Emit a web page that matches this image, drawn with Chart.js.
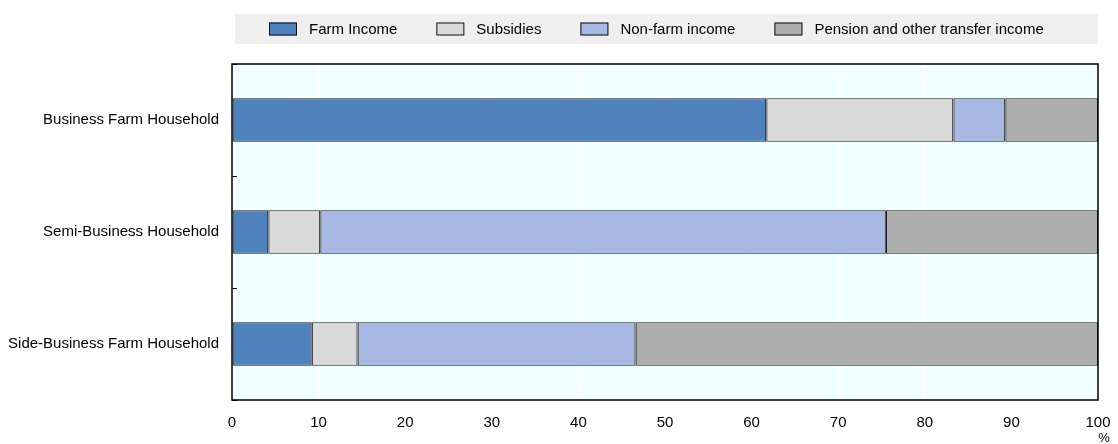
<!DOCTYPE html>
<html lang="en">
<head>
  <meta charset="UTF-8">
  <title>Income composition by household type</title>
  <script src="https://cdn.jsdelivr.net/npm/chart.js"></script>
  <style>
    body {
      margin: 0;
      background: #fff;
    }
    #wrap {
      width: 1118px;
      height: 444px;
    }
  </style>
</head>
<body>
  <div id="wrap">
    <canvas id="incomeChart" width="1118" height="444"></canvas>
  </div>

  <script>
    const households = ['Business Farm Household', 'Semi-Business Household', 'Side-Business Farm Household'];
    const farmIncome = [61.7, 4.2, 9.2];
    const subsidies = [21.6, 6.0, 5.3];
    const nonFarmIncome = [6.0, 65.3, 32.1];
    const pensionTransfers = [10.7, 24.5, 53.4];
    const xTicks = [0, 10, 20, 30, 40, 50, 60, 70, 80, 90, 100];

    const FONT = "'Liberation Sans', Arial, sans-serif";

    // plot background, frame, legend strip and the "%" unit
    const decorations = {
      id: 'decorations',
      beforeDraw(chart) {
        const { ctx, chartArea: a } = chart;
        ctx.save();
        ctx.fillStyle = '#F0FFFF';
        ctx.fillRect(a.left, a.top, a.right - a.left, a.bottom - a.top);
        ctx.restore();
      },
      afterDraw(chart) {
        const { ctx, chartArea: a } = chart;
        ctx.save();
        ctx.strokeStyle = '#000';
        ctx.lineWidth = 1.5;
        ctx.strokeRect(a.left, a.top, a.right - a.left, a.bottom - a.top);

        // legend
        ctx.fillStyle = '#EFEFEF';
        ctx.fillRect(235, 14, a.right - 235, 30);
        ctx.font = '15px ' + FONT;
        ctx.textBaseline = 'middle';
        const gapBoxText = 12, gapItems = 39, boxW = 28, boxH = 13;
        const items = chart.data.datasets.map(ds => ({
          label: ds.label, color: ds.backgroundColor,
          w: boxW + gapBoxText + ctx.measureText(ds.label).width
        }));
        const total = items.reduce((s, it) => s + it.w, 0) + gapItems * (items.length - 1);
        let x = Math.round((215 + a.right) / 2 - total / 2);
        const cy = 29;
        items.forEach(it => {
          ctx.fillStyle = it.color;
          ctx.fillRect(x, cy - boxH / 2, boxW, boxH);
          ctx.strokeStyle = '#111';
          ctx.lineWidth = 1;
          ctx.strokeRect(x + 0.5, cy - boxH / 2 + 0.5, boxW - 1, boxH - 1);
          ctx.fillStyle = '#000';
          ctx.fillText(it.label, x + boxW + gapBoxText, cy + 1);
          x += it.w + gapItems;
        });

        ctx.font = '13px ' + FONT;
        ctx.textAlign = 'center';
        ctx.fillText('%', a.right + 6, 438);
        ctx.restore();
      }
    };

    new Chart(document.getElementById('incomeChart'), {
      type: 'bar',
      data: {
        labels: households,
        datasets: [
          { label: 'Farm Income', data: farmIncome, backgroundColor: '#4F81BD' },
          { label: 'Subsidies', data: subsidies, backgroundColor: '#DADADA' },
          { label: 'Non-farm income', data: nonFarmIncome, backgroundColor: '#A7B8E2' },
          { label: 'Pension and other transfer income', data: pensionTransfers, backgroundColor: '#ADADAD' }
        ].map(ds => Object.assign(ds, {
          borderColor: '#1a1a1a',
          borderWidth: 1.2,
          borderSkipped: false,
          categoryPercentage: 1,
          barPercentage: 0.39
        }))
      },
      options: {
        indexAxis: 'y',
        responsive: false,
        animation: false,
        layout: { padding: { top: 64, right: 20, left: 0, bottom: 0 } },
        plugins: {
          legend: { display: false },
          tooltip: { enabled: false }
        },
        scales: {
          x: {
            stacked: true,
            min: 0,
            max: 100,
            afterBuildTicks: scale => { scale.ticks = xTicks.map(v => ({ value: v })); },
            afterFit: scale => {
              scale.height = 44;
              scale.paddingLeft = 0;
              scale.paddingRight = 0;
            },
            border: { display: false },
            grid: { color: '#FFFFFF', drawTicks: false },
            ticks: {
              padding: 14,
              color: '#000',
              font: { family: FONT, size: 15 }
            }
          },
          y: {
            stacked: true,
            afterFit: scale => { scale.width = 232; },
            border: { display: false },
            grid: {
              offset: true,
              drawOnChartArea: false,
              tickLength: -5,
              color: '#000'
            },
            ticks: {
              padding: 18,
              color: '#000',
              font: { family: FONT, size: 15 }
            }
          }
        }
      },
      plugins: [decorations]
    });
  </script>
</body>
</html>
